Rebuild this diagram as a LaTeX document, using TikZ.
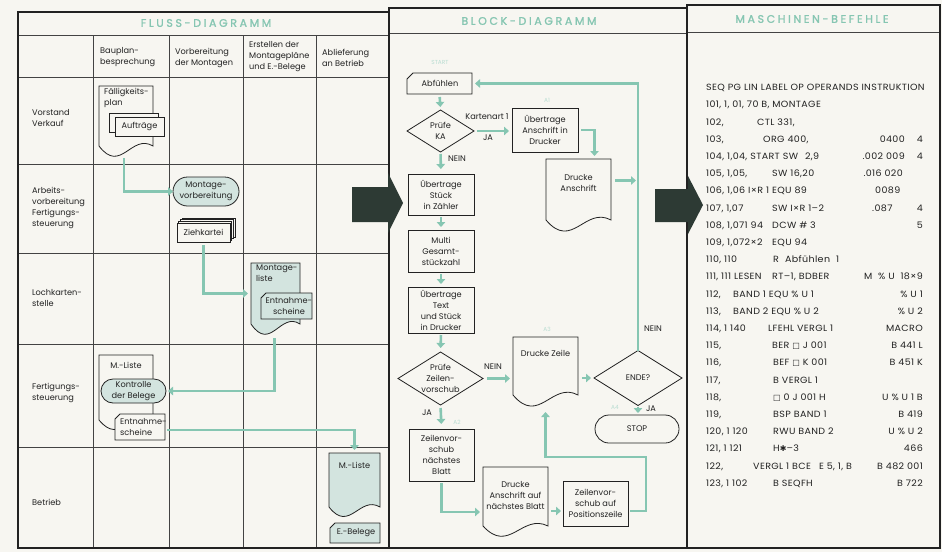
\documentclass[tikz,border=0pt]{standalone}
\usepackage{fontspec}
\setmainfont{Poppins}
\newfontfamily\hdrfont[LetterSpace=24,FakeBold=1.5]{Poppins}
\newfontfamily\codefont[FakeStretch=1.06,LetterSpace=4]{Poppins}
\newfontfamily\symf{DejaVu Sans}
\usetikzlibrary{arrows.meta,calc,shapes.misc}
\definecolor{paper}{HTML}{F7F6F1}
\definecolor{teal1}{HTML}{86C6B2}
\definecolor{tealL}{HTML}{B9DDD2}
\definecolor{shade}{HTML}{D3E4DF}
\definecolor{darkarrow}{HTML}{2D3A34}
\definecolor{ink}{HTML}{222222}
\newcommand\docdraw[3]{\draw[#3] (#1.south west) -- (#1.north west) -- (#1.north east) -- (#1.south east) .. controls ($(#1.south west)!0.6!(#1.south east)+(0,-#2)$) and ($(#1.south west)!0.4!(#1.south east)+(0,2.2*#2)$) .. (#1.south west) -- cycle;}
\newcommand\carddraw[3]{\draw[#3] ($(#1.north west)+(0,#2)$) -- ($(#1.north west)+(#2,0)$) -- (#1.north east) -- (#1.south east) -- (#1.south west) -- cycle;}
\newcommand\diadraw[2]{\draw[#2] (#1.north) -- (#1.east) -- (#1.south) -- (#1.west) -- cycle;}
\newcommand\crow[3]{\node[code] (r#1x#2) at (#2,{90.6+17.2*#1}) {#3};}
\newcommand\crowr[3]{\node[coder] (q#1x#2) at (#2,{90.6+17.2*#1}) {#3};}
\newcommand\bx{{\symf\fontsize{8}{9}\selectfont □}}
\begin{document}
\begin{tikzpicture}[x=1pt,y=-1pt,
  txt/.style={font=\fontsize{8.2}{11}\selectfont, text=ink, inner sep=0pt, align=center},
  lbl/.style={txt, align=left, anchor=west},
  sz/.style 2 args={minimum width=#1, minimum height=#2, inner sep=0pt, outer sep=0pt},
  blk/.style={draw=ink, line width=0.8pt},
  boxs/.style={txt, draw=ink, line width=0.8pt, fill=paper},
  flow/.style={draw=teal1, line width=2.6pt, -{Triangle[length=5pt,width=8.5pt]}},
  gridline/.style={draw=ink!85, line width=0.75pt},
  frameline/.style={draw=ink, line width=1.4pt},
  hdr/.style={font=\hdrfont\fontsize{11}{12}\selectfont, text=teal1, inner sep=0pt},
  tag/.style={font=\fontsize{5.8}{7}\selectfont, text=tealL, inner sep=0pt},
  code/.style={font=\codefont\fontsize{9}{10}\selectfont, text=ink, anchor=base west, inner sep=0pt},
  coder/.style={code, anchor=base east}]
\fill[paper] (0,0) rectangle (942,552);
\useasboundingbox (0,0) rectangle (942,552);

% ---------- grids and frames
\foreach \yy in {35,77,164,253,344,447} \draw[gridline] (18,\yy) -- (389,\yy);
\foreach \xx in {93,169,243,316} \draw[gridline] (\xx,35) -- (\xx,548);
\draw[gridline] (389,33) -- (687,33);
\draw[gridline] (687,32) -- (940,32);
\draw[frameline] (18,12) rectangle (389,548);
\draw[frameline] (389,8) rectangle (687,548);
\draw[frameline] (687,5) rectangle (940,548);

% ---------- headers
\node[hdr] (h1) at (206,23) {FLUSS-DIAGRAMM};
\node[hdr] (h2) at (529,21) {BLOCK-DIAGRAMM};
\node[hdr] (h3) at (812,19) {MASCHINEN-BEFEHLE};

% ---------- left panel labels
\node[lbl] (c2) at (100,57.5) {Bauplan-\\besprechung};
\node[lbl] (c3) at (175,57.5) {Vorbereitung\\der Montagen};
\node[lbl] (c4) at (249,56.5) {Erstellen der\\Montagepläne\\und E.-Belege};
\node[lbl] (c5) at (322,57.5) {Ablieferung\\an Betrieb};
\node[lbl] (rw1) at (32,118) {Vorstand\\Verkauf};
\node[lbl] (rw2) at (32,208) {Arbeits-\\vorbereitung\\Fertigungs-\\steuerung};
\node[lbl] (rw3) at (32,298) {Lochkarten-\\stelle};
\node[lbl] (rw4) at (32,393) {Fertigungs-\\steuerung};
\node[lbl] (rw5) at (32,502) {Betrieb};

% ---------- left panel shapes
\node[sz={54pt}{60pt}] (fp) at (126,116) {};
\docdraw{fp}{13}{blk,fill=paper}
\node[lbl,anchor=north west] (fpt) at (104,88) {Fälligkeits-\\plan};
\draw[blk,fill=paper] (109,113) rectangle (158,132);
\node[boxs, sz={49pt}{19pt}] (auf) at (139.5,126.5) {Aufträge};

\node[txt, draw=ink, line width=0.8pt, fill=shade, rounded rectangle, sz={66pt}{29pt}] (mv) at (206,191.5) {Montage-\\vorbereitung};

\foreach \k in {3,2,1} \draw[blk,fill=paper] ({177+1.7*\k},{223-1.7*\k}) rectangle ({230+1.7*\k},{242-1.7*\k});
\node[boxs, sz={53pt}{19pt}] (zk) at (203.5,232.5) {Ziehkartei};

\node[sz={49pt}{61pt}] (ml) at (275.5,293.5) {};
\docdraw{ml}{13}{blk,fill=shade}
\node[lbl,anchor=north west] (mlt) at (256,265) {Montage-\\liste};
\node[sz={51pt}{26pt}] (ens1) at (286.5,306) {};
\carddraw{ens1}{5}{blk,fill=shade}
\node[txt] (ens1t) at (289,306) {Entnahme-\\scheine};

\node[sz={54pt}{65pt}] (mlist) at (126,387.5) {};
\docdraw{mlist}{12}{blk,fill=paper}
\node[txt] (mlistt) at (126,365) {M.-Liste};
\node[txt, draw=ink, line width=0.8pt, fill=shade, rounded rectangle, sz={65pt}{24pt}] (kb) at (133.5,391) {Kontrolle\\der Belege};
\node[sz={50pt}{26pt}] (ens2) at (140,427) {};
\carddraw{ens2}{5}{blk,fill=paper}
\node[lbl] (ens2t) at (120,427) {Entnahme-\\scheine};

\node[sz={51pt}{54pt}] (mlb) at (354.5,480) {};
\docdraw{mlb}{12}{blk,fill=shade}
\node[txt] (mlbt) at (354.5,465) {M.-Liste};
\node[sz={50pt}{20pt}] (eb) at (355,533) {};
\carddraw{eb}{5}{blk,fill=shade}
\node[txt] (ebt) at (356,533) {E.-Belege};

% ---------- left connectors
\draw[flow] ($(fp.south)+(-2,12)$) |- (mv.west);
\draw[flow, shorten <=3pt, shorten >=3pt] (zk.south) |- (ml.west);
\draw[flow, shorten >=2pt] ($(ml.south)+(-1,14)$) |- (kb.east);
\draw[flow, shorten >=3pt] ($(ens2.east)+(2,3)$) -| (mlb.north);

% ---------- middle panel
\node[tag] (tstart) at (440,62) {START};
\node[sz={65pt}{21pt}] (abf) at (439.5,83.5) {};
\carddraw{abf}{6}{blk,fill=paper}
\node[txt] (abft) at (440,83.5) {Abfühlen};
\node[txt, sz={67pt}{42pt}] (pka) at (440.5,131) {Prüfe\\KA};
\diadraw{pka}{blk}
\node[txt] (lka) at (487,117) {Kartenart 1};
\node[txt] (lja1) at (488,138) {JA};
\node[tag] (ta1) at (547,100) {A1};
\node[boxs, sz={66pt}{44pt}] (a1) at (545,130) {Übertrage\\Anschrift in\\Drucker};
\node[sz={65pt}{61pt}] (da) at (578.5,189.5) {};
\docdraw{da}{14}{blk,fill=paper}
\node[txt] (dat) at (578.5,182.5) {Drucke\\Anschrift};
\node[txt] (lnein1) at (457,159) {NEIN};
\node[boxs, sz={66pt}{41pt}] (us) at (441,194.5) {Übertrage\\Stück\\in Zähler};
\node[boxs, sz={66pt}{42pt}] (mg) at (441,251) {Multi\\Gesamt-\\stückzahl};
\node[boxs, sz={66pt}{46pt}] (ut) at (441,310) {Übertrage\\Text\\und Stück\\in Drucker};
\node[txt, sz={85pt}{53pt}] (pz) at (440.5,378.5) {Prüfe\\Zeilen-\\vorschub};
\diadraw{pz}{blk}
\node[txt] (lnein2) at (493,367) {NEIN};
\node[tag] (ta3) at (547,329) {A3};
\node[sz={65pt}{58pt}] (dz) at (545.5,366) {};
\docdraw{dz}{14}{blk,fill=paper}
\node[txt] (dzt) at (545.5,353) {Drucke Zeile};
\node[txt, sz={88pt}{55pt}] (en) at (638,378) {ENDE?};
\diadraw{en}{blk}
\node[txt] (lnein3) at (653,329) {NEIN};
\node[txt] (lja3) at (651,409) {JA};
\node[tag] (ta4) at (615,407) {A4};
\node[txt, draw=ink, line width=0.8pt, rounded rectangle, sz={84pt}{28pt}] (st) at (637,429) {STOP};
\node[txt] (lja2) at (427,413) {JA};
\node[tag] (ta2) at (457,422) {A2};
\node[boxs, sz={65pt}{52pt}] (zn) at (441.5,455) {Zeilenvor-\\schub\\nächstes\\Blatt};
\node[sz={65pt}{59pt}] (dn) at (515.5,496.5) {};
\docdraw{dn}{13}{blk,fill=paper}
\node[txt] (dnt) at (515.5,495) {Drucke\\Anschrift auf\\nächstes Blatt};
\node[boxs, sz={65pt}{45pt}] (zp) at (595.5,503.5) {Zeilenvor-\\schub auf\\Positionszeile};

% ---------- middle connectors
\draw[flow, shorten <=3pt, shorten >=3pt] (abf.south) -- (pka.north);
\draw[flow, shorten <=3pt, shorten >=3pt] (pka.east) -- (pka.east -| a1.west);
\draw[flow, shorten <=3pt] (a1.east) -| ($(da.north)+(16,-3)$);
\draw[flow, shorten <=2pt, shorten >=5pt] (pka.south) -- (us.north);
\draw[flow, shorten <=2pt, shorten >=3pt] (us.south) -- (mg.north);
\draw[flow, shorten <=2pt, shorten >=3pt] (mg.south) -- (ut.north);
\draw[flow, shorten <=2pt, shorten >=4pt] (ut.south) -- (pz.north);
\draw[flow, shorten <=4pt, shorten >=3pt] (pz.east) -- (pz.east -| dz.west);
\draw[flow, shorten <=4pt, shorten >=3pt] (en.west -| dz.east) -- (en.west);
\draw[flow, shorten >=3pt] (en.north) |- (abf.east);
\coordinate (jn) at (da.east -| en.north);
\draw[flow, shorten <=2pt] ($(da.east)+(2,-9)$) -- ($(jn)+(-2,-9)$);
\draw[flow, shorten <=1pt, shorten >=2pt] (en.south) -- (en.south |- st.north);
\draw[flow, shorten <=3pt, shorten >=5pt] (pz.south) -- (zn.north);
\coordinate (bl) at ($(dn.west)+(0,15.5)$);
\draw[flow, shorten <=2pt, shorten >=3pt] (zn.south) |- (bl);
\draw[flow, shorten <=3pt, shorten >=2pt] ($(dn.east)+(0,14.5)$) -- ($(zp.west)+(0,7.5)$);
\coordinate (bend) at (646,457);
\draw[flow, shorten <=2pt] ($(zp.east)+(0,7.5)$) -| (bend) -| ($(dz.south)+(0,17)$);

% ---------- big arrows
\fill[darkarrow] (352,187) -- (388,187) -- (388,173) -- (403,203) -- (388,233) -- (388,222) -- (352,222) -- cycle;
\fill[darkarrow] (655,189) -- (688,189) -- (688,176) -- (703,205) -- (688,234) -- (688,222) -- (655,222) -- cycle;

% ---------- right panel
\crow{0}{706}{SEQ PG LIN LABEL OP OPERANDS INSTRUKTION}
\crow{1}{706}{101, 1, 01, 70 B, MONTAGE}
\crow{2}{706}{102,} \crow{2}{757}{CTL 331,}
\crow{3}{706}{103,} \crow{3}{763}{ORG 400,} \crowr{3}{905}{0400} \crowr{3}{923}{4}
\crow{4}{706}{104, 1,04, START SW\hspace{7pt}2,9} \crowr{4}{905}{.002 009} \crowr{4}{923}{4}
\crow{5}{706}{105, 1,05,} \crow{5}{772}{SW 16,20} \crowr{5}{903}{.016 020}
\crow{6}{706}{106, 1,06 I×R 1 EQU 89} \crow{6}{875}{0089}
\crow{7}{706}{107, 1,07} \crow{7}{772}{SW I×R 1–2} \crow{7}{872}{.087} \crowr{7}{923}{4}
\crow{8}{706}{108, 1,071 94} \crow{8}{772}{DCW \# 3} \crowr{8}{923}{5}
\crow{9}{706}{109, 1,072×2} \crow{9}{772}{EQU 94}
\crow{10}{706}{110, 110} \crow{10}{773}{R\hspace{6pt}Abfühlen\hspace{6pt}1}
\crow{11}{706}{111, 111 LESEN} \crow{11}{772}{RT–1, BDBER} \crowr{11}{923}{M \ \% U \ 18×9}
\crow{12}{706}{112,} \crow{12}{733}{BAND 1 EQU \% U 1} \crowr{12}{923}{\% U 1}
\crow{13}{706}{113,} \crow{13}{733}{BAND 2 EQU \% U 2} \crowr{13}{923}{\% U 2}
\crow{14}{706}{114, 1 140} \crow{14}{768}{LFEHL VERGL 1} \crowr{14}{923}{MACRO}
\crow{15}{706}{115,} \crow{15}{772}{BER \bx\ J 001} \crowr{15}{923}{B 441 L}
\crow{16}{706}{116,} \crow{16}{773}{BEF \bx\ K 001} \crowr{16}{923}{B 451 K}
\crow{17}{706}{117,} \crow{17}{773}{B VERGL 1}
\crow{18}{706}{118,} \crow{18}{773}{\bx\ 0 J 001 H} \crowr{18}{923}{U \% U 1 B}
\crow{19}{706}{119,} \crow{19}{773}{BSP BAND 1} \crowr{19}{923}{B 419}
\crow{20}{706}{120, 1 120} \crow{20}{773}{RWU BAND 2} \crowr{20}{923}{U \% U 2}
\crow{21}{706}{121, 1 121} \crow{21}{773}{H{\symf\fontsize{8}{9}\selectfont ✱}–3} \crowr{21}{923}{466}
\crow{22}{706}{122,} \crow{22}{753}{VERGL 1 BCE\hspace{8pt}E 5, 1, B} \crowr{22}{923}{B 482 001}
\crow{23}{706}{123, 1 102} \crow{23}{773}{B SEQFH} \crowr{23}{923}{B 722}
\end{tikzpicture}
\end{document}
